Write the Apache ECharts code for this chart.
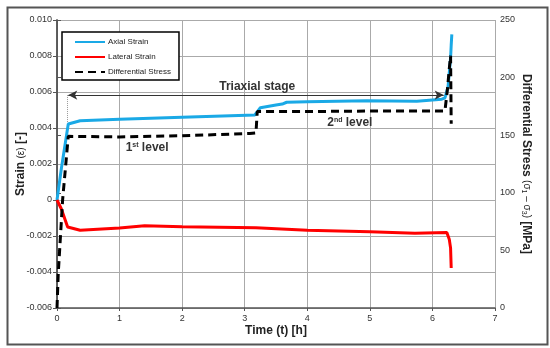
<!DOCTYPE html>
<html>
<head>
<meta charset="utf-8">
<script src="https://cdn.jsdelivr.net/npm/echarts@6/dist/echarts.min.js"></script>
<style>html,body{margin:0;padding:0;background:#fff}#c{width:550px;height:348px}</style>
</head>
<body>
<div id="c"></div>
<script>
// ---- data ----
var timeAxial = [0, 0.07, 0.18, 0.37, 1.0, 2.0, 3.16, 3.2, 3.25, 3.5, 3.6, 3.67, 4.0, 4.95, 5.75, 6.15, 6.2, 6.25, 6.29, 6.3, 6.31];
var axialStrain = [0, 0.00175, 0.00422, 0.0044, 0.00448, 0.0046, 0.00472, 0.0049, 0.00513, 0.00528, 0.00533, 0.00543, 0.00546, 0.00552, 0.00548, 0.0056, 0.00567, 0.0063, 0.0079, 0.0086, 0.0092];

var timeLateral = [0, 0.07, 0.17, 0.37, 1.0, 1.4, 2.0, 3.18, 3.2, 4.0, 5.0, 5.72, 6.23, 6.27, 6.29, 6.3];
var lateralStrain = [0, -0.0005, -0.0015, -0.00168, -0.00156, -0.00143, -0.00148, -0.00154, -0.00163, -0.00168, -0.00176, -0.00185, -0.0018, -0.0022, -0.00267, -0.00378];

var timeStress = [0, 0.02, 0.09, 0.18, 1.0, 2.0, 3.08, 3.18, 3.2, 4.0, 5.0, 6.2, 6.24, 6.27, 6.29, 6.3];
var diffStress = [0, 30, 94, 149, 148.5, 149.5, 151.5, 152, 170.5, 170.5, 171, 171, 190, 208, 219, 160];

var seriesNames = ['Axial Strain', 'Lateral Strain', 'Differential Stress'];

function pairs(xs, ys) { return xs.map(function (x, i) { return [x, ys[i]]; }); }

var FONT = '"Liberation Sans", Arial, sans-serif';
var chart = echarts.init(document.getElementById('c'), null, {renderer: 'canvas'});

var supRich = {
  t: {fontFamily: FONT, fontSize: 12, fontWeight: 'bold', color: '#333'},
  s: {fontFamily: FONT, fontSize: 7, fontWeight: 'bold', color: '#333', verticalAlign: 'top', padding: [0, 0, 6, 0]}
};

var option = {
  animation: false,
  backgroundColor: '#fff',
  grid: {left: 57, right: 55, top: 20, bottom: 40, containLabel: false},
  legend: {
    orient: 'vertical', left: 62, top: 32,
    data: seriesNames,
    itemWidth: 30, itemHeight: 10, itemGap: 7,
    padding: [6, 8, 4, 12],
    itemStyle: {opacity: 0},
    borderColor: '#000', borderWidth: 1.5, backgroundColor: '#fff',
    textStyle: {fontFamily: FONT, fontSize: 8, color: '#222', padding: [0, 0, 0, -2]}
  },
  xAxis: {
    type: 'value', min: 0, max: 7, interval: 1,
    name: 'Time (t) [h]', nameLocation: 'middle', nameGap: 17, nameMoveOverlap: false,
    nameTextStyle: {fontFamily: FONT, fontSize: 12, fontWeight: 'bold', color: '#222'},
    axisLine: {show: true, onZero: false, lineStyle: {color: '#555', width: 1.5}},
    axisTick: {show: true, length: 3, inside: false, lineStyle: {color: '#555'}},
    axisLabel: {fontFamily: FONT, fontSize: 9, color: '#333', margin: 6},
    splitLine: {show: true, lineStyle: {color: '#aaa', width: 1}}
  },
  yAxis: [{
    type: 'value', min: -0.006, max: 0.010, interval: 0.002,
    name: '{b|Strain }{n|(ε)}{b| [-]}', nameLocation: 'middle', nameGap: 30, nameMoveOverlap: false,
    nameTextStyle: {fontFamily: FONT, color: '#222',
      rich: {b: {fontFamily: FONT, fontSize: 12, fontWeight: 'bold', color: '#222'},
             n: {fontFamily: FONT, fontSize: 10, color: '#222'}}},
    axisLine: {show: true, onZero: false, lineStyle: {color: '#555', width: 1.5}},
    axisTick: {show: true, length: 4, lineStyle: {color: '#555'}},
    axisLabel: {fontFamily: FONT, fontSize: 9, color: '#333', margin: 5,
      formatter: function (v) { var r = Math.round(v * 1000); return r === 0 ? '0' : v.toFixed(3); }},
    splitLine: {show: true, lineStyle: {color: '#aaa', width: 1}}
  }, {
    type: 'value', min: 0, max: 250, interval: 50, position: 'right',
    name: '{b|Differential Stress }{n|(σ}{s|1}{n| – σ}{s|3}{n|)}{b| [MPa]}',
    nameLocation: 'middle', nameGap: 25, nameRotate: -90, nameMoveOverlap: false,
    nameTextStyle: {fontFamily: FONT, color: '#222',
      rich: {b: {fontFamily: FONT, fontSize: 12, fontWeight: 'bold', color: '#222'},
             n: {fontFamily: FONT, fontSize: 10, color: '#222'},
             s: {fontFamily: FONT, fontSize: 7, color: '#222', verticalAlign: 'bottom', padding: [6, 0, 0, 0]}}},
    axisLine: {show: true, lineStyle: {color: '#555', width: 1.5}},
    axisTick: {show: true, length: 4, lineStyle: {color: '#555'}},
    axisLabel: {fontFamily: FONT, fontSize: 9, color: '#333', margin: 5},
    splitLine: {show: false}
  }],
  series: [{
    name: seriesNames[0], type: 'line', yAxisIndex: 0, symbol: 'none', z: 3,
    data: pairs(timeAxial, axialStrain),
    lineStyle: {color: '#1aa9e6', width: 3}, itemStyle: {color: '#1aa9e6'},
    markLine: {
      silent: true, symbol: ['arrow', 'arrow'], symbolSize: [7, 9],
      label: {show: false},
      lineStyle: {color: '#333', width: 1, type: 'solid'},
      data: [
        [{coord: [0.18, 0.00583]}, {coord: [6.18, 0.00583]}],
        [{coord: [0.17, 0.00583], symbol: 'none', lineStyle: {type: 'dotted', color: '#999', width: 1}},
         {coord: [0.17, 0.0043], symbol: 'none'}]
      ]
    },
    markPoint: {
      silent: true, symbol: 'circle', symbolSize: 0,
      label: {show: true, position: 'inside', fontFamily: FONT, color: '#333', fontWeight: 'bold', fontSize: 12},
      data: [
        {coord: [3.2, 0.00628], label: {formatter: 'Triaxial stage'}},
        {coord: [1.44, 0.0029], label: {formatter: '{t|1}{s|st}{t| level}', rich: supRich}},
        {coord: [4.68, 0.00428], label: {formatter: '{t|2}{s|nd}{t| level}', rich: supRich}}
      ]
    }
  }, {
    name: seriesNames[1], type: 'line', yAxisIndex: 0, symbol: 'none', z: 3,
    data: pairs(timeLateral, lateralStrain),
    lineStyle: {color: '#ff0000', width: 3}, itemStyle: {color: '#ff0000'}
  }, {
    name: seriesNames[2], type: 'line', yAxisIndex: 1, symbol: 'none', z: 4,
    data: pairs(timeStress, diffStress),
    lineStyle: {color: '#000', width: 3, type: [8, 5]}, itemStyle: {color: '#000'}
  }],
  graphic: [{
    type: 'rect', left: 5, top: 5, z: -10, silent: true,
    shape: {width: 540, height: 337},
    style: {fill: 'none', stroke: '#555', lineWidth: 2}
  }]
};
chart.setOption(option);
</script>
</body>
</html>
